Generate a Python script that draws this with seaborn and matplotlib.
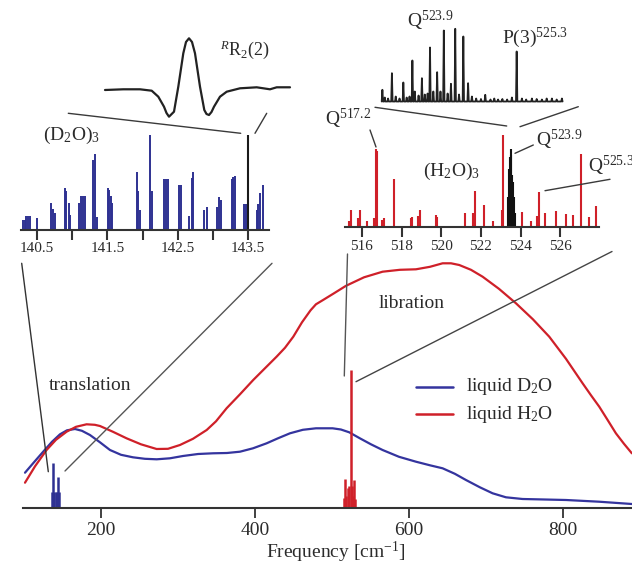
import numpy as np
import pandas as pd
import matplotlib
matplotlib.use("Agg")
import matplotlib.pyplot as plt
from matplotlib.lines import Line2D
import seaborn as sns

# ---------------- data ----------------
# liquid spectra (arbitrary absorbance units)
freq_d2o = [101.4, 113, 125, 136.4, 146.8, 155.9, 166.3, 175.3, 185.7, 198.7, 211.7,
            226, 241.5, 257, 272.3, 289.5, 306.4, 326, 345.4, 363.5, 380.4, 397.3,
            415, 429.7, 445.3, 462, 479, 500.6, 511.4, 522.2, 536, 550.4, 565.5,
            586.8, 608.8, 627, 643.4, 659.3, 673.7, 691.8, 708.3, 725.6, 747.2,
            776, 803.5, 846.3, 889]
abs_d2o = [35.6, 46, 56.6, 66.5, 74, 78, 79.3, 77.5, 73.3, 66, 58.3,
           53.5, 51, 49.5, 49, 50, 52.3, 54.3, 55, 55.3, 56.6, 60,
           65, 70, 75, 78.5, 80, 80, 78.8, 76, 70, 64, 58.3,
           51.5, 46.6, 43, 40, 34.5, 28.3, 21, 15, 11, 9.3,
           8.8, 8.3, 6.6, 4.3]
freq_h2o = [101.4, 114.4, 129.4, 141.6, 155.4, 167.6, 181.3, 192, 198.7, 215.6, 233.2,
            251.9, 272.2, 287, 302.5, 319.4, 337.2, 349.3, 363, 380.4, 397.6, 412.8,
            427.9, 438.8, 449.6, 460.9, 472, 479, 487.6, 502.4, 518, 541.4, 565.5,
            588, 608.8, 627, 643.4, 654.3, 665, 680.2, 695.3, 716.5, 738.6, 760.6,
            781.8, 803.5, 825.1, 836, 846.7, 857.4, 868.3, 878.8, 889]
abs_h2o = [25.6, 42, 58.3, 68.5, 76.6, 81.5, 84, 83.5, 82.3, 76.5, 70,
           64, 59.3, 59.5, 63.3, 69.5, 78.3, 87, 100, 114, 128.3, 140,
           151.6, 160.5, 171.6, 186, 198, 204, 208, 215, 222.5, 231, 236.6,
           238.5, 239, 241.5, 245, 245, 243.3, 238.5, 231.6, 219.5, 205, 189,
           171.6, 149.5, 125, 113, 101.6, 88.5, 75, 64.5, 55]

# cluster lines as drawn on the main axis
d2o_main_freq = [137.0, 138.2, 139.5, 141.0, 142.5, 144.6, 146.0]
d2o_main_int = [16, 45, 16, 16, 16, 31, 16]
h2o_main_freq = [515.5, 517.1, 518.5, 520.0, 521.5, 523.9, 525.5, 526.5, 528.0, 529.5]
h2o_main_int = [10, 29, 12, 20, 22, 138, 22, 12, 28, 9]

# (D2O)3 stick spectrum
d2o_freq = [140.30, 140.33, 140.35, 140.38, 140.40, 140.50, 140.70, 140.73, 140.76,
            140.90, 140.92, 140.95, 140.97, 141.10, 141.13, 141.155, 141.18, 141.30,
            141.33, 141.35, 141.51, 141.53, 141.55, 141.57, 141.92, 141.94, 141.96,
            142.11, 142.14, 142.31, 142.335, 142.36, 142.52, 142.55, 142.66, 142.70,
            142.72, 142.87, 142.91, 143.06, 143.09, 143.11, 143.27, 143.29, 143.32,
            143.44, 143.47, 143.62, 143.64, 143.67, 143.71]
d2o_int = [9.3, 9.3, 14, 14, 14, 11.7, 26.7, 20.7, 16.7,
           42, 38.3, 26.7, 15, 26.7, 33.3, 33.3, 33.3, 70,
           75.7, 12.7, 41.7, 39.3, 33.3, 26.7, 57.3, 38.3, 19.3,
           94.3, 38.3, 51, 51, 51, 44.7, 44.7, 13.3, 51.7,
           57.7, 20, 22.7, 22.7, 32.7, 30, 51, 52.7, 54,
           26, 26, 20, 26, 36.7, 44.7]
d2o_black_freq = [143.50]
d2o_black_int = [94.3]

# (H2O)3 stick spectrum
h2o_freq = [515.36, 515.46, 515.83, 515.91, 516.25, 516.64, 516.72, 516.79, 517.00,
            517.12, 517.64, 518.47, 518.55, 518.85, 518.94, 519.74, 519.81, 521.20,
            521.62, 521.72, 522.16, 522.63, 523.05, 523.12, 524.06, 524.51, 524.82,
            524.90, 525.24, 525.79, 526.26, 526.66, 527.03, 527.45, 527.80]
h2o_int = [6, 17, 9.3, 17, 6, 9.3, 78.3, 76, 7.7,
           9.3, 48.7, 9.3, 10.3, 11, 17, 12.7, 10.3, 14.3,
           14.3, 36, 22, 6.7, 17.7, 92.7, 15.3, 6, 11,
           35, 14.3, 16.7, 13.3, 12, 73.7, 10.3, 21]
h2o_black_freq = [523.38, 523.42, 523.46, 523.49, 523.52, 523.56, 523.60, 523.65, 523.69]
h2o_black_int = [30, 58, 70, 78, 72, 52, 45, 30, 14]

# high-resolution scan of the RR2(2) line
rr_shift = [-84, -65.7, -49, -37.3, -30.7, -25, -22.5, -20, -15, -10.7, -5.7, -3, 0,
            3, 6, 11, 15.3, 17.5, 20, 22.5, 25, 31, 37.7, 51, 67.7, 81, 87.7, 101]
rr_signal = [0, 0.7, 0.7, -0.7, -6.7, -16.7, -23, -26.7, -21.7, 3.3, 36.7, 48, 51.7,
             48, 36.7, 3.3, -20, -24, -25, -22, -16.7, -6.7, -1.7, 1.7, 2.7, 0.7, 2.7, 2.7]

# jet spectrum around 524 cm-1
jet_freq = [522.48, 522.53, 522.60, 522.68, 522.76, 522.84, 522.92, 522.99, 523.05,
            523.11, 523.16, 523.24, 523.31, 523.37, 523.43, 523.48, 523.55, 523.63,
            523.70, 523.77, 523.85, 523.92, 524.01, 524.09, 524.18, 524.28, 524.36,
            524.45, 524.55, 524.64, 524.75, 524.83, 524.91, 525.00, 525.10, 525.20,
            525.30, 525.41, 525.50, 525.62, 525.72, 525.83, 525.93, 526.04, 526.14, 526.25]
jet_int = [11.7, 4, 3, 28.3, 5, 3, 19, 4, 5,
           41, 10, 6, 23.3, 7, 8, 54, 10, 29.3,
           10, 71, 8, 17.7, 72.7, 7, 65, 18.3, 5,
           3, 2.5, 6.7, 2, 3, 2, 2.5, 2, 4,
           50, 3, 2, 3, 2.5, 2, 3, 3, 2, 3]

# ---------------- style ----------------
sns.set_theme(style="white")
plt.rcParams["font.family"] = ["Liberation Serif", "DejaVu Serif"]
plt.rcParams["mathtext.fontset"] = "custom"
plt.rcParams["mathtext.rm"] = "Liberation Serif"
plt.rcParams["mathtext.it"] = "Liberation Serif:italic"
plt.rcParams["mathtext.bf"] = "Liberation Serif:bold"

TXT = "#2b2b2b"
AX = "#333333"
BLUE = "#34349e"
DBLUE = "#2e3192"
RED = "#cf2029"

W, H = 632, 566
fig = plt.figure(figsize=(W / 100, H / 100), dpi=100)


def rect(x0, x1, ytop, ybot):
    return [x0 / W, 1 - ybot / H, (x1 - x0) / W, (ybot - ytop) / H]


def fpt(x, y):
    return x / W, 1 - y / H


def line(p0, p1, color="#3a3a3a", lw=1.0):
    (x0, y0), (x1, y1) = fpt(*p0), fpt(*p1)
    fig.add_artist(Line2D([x0, x1], [y0, y1], transform=fig.transFigure,
                          color=color, lw=lw))


def text(x, y, s, size=14, ha="center", va="center"):
    fx, fy = fpt(x, y)
    fig.text(fx, fy, s, fontsize=size, ha=ha, va=va, color=TXT)


def style_axis(ax, labelsize):
    for s in ["left", "top", "right"]:
        ax.spines[s].set_visible(False)
    ax.spines["bottom"].set_color(AX)
    ax.spines["bottom"].set_linewidth(1.5)
    ax.set_yticks([])
    ax.set_facecolor("none")
    ax.tick_params(axis="x", which="both", direction="out", length=6, width=1.3,
                   color=AX, labelcolor=TXT, labelsize=labelsize, pad=2, bottom=True)
    ax.set_ylabel("")
    ax.set_xlabel("")


# ---------------- main axes ----------------
ax = fig.add_axes(rect(23, 632, 0, 508.3))
df_d = pd.DataFrame({"freq": freq_d2o, "abs": abs_d2o})
df_h = pd.DataFrame({"freq": freq_h2o, "abs": abs_h2o})
sns.lineplot(data=df_d, x="freq", y="abs", ax=ax, color=BLUE, lw=1.6, sort=False,
             solid_joinstyle="round")
sns.lineplot(data=df_h, x="freq", y="abs", ax=ax, color=RED, lw=1.6, sort=False,
             solid_joinstyle="round")
ax.vlines(d2o_main_freq, 0, d2o_main_int, color=DBLUE, lw=1.8)
ax.vlines(h2o_main_freq, 0, h2o_main_int, color=RED, lw=1.8)
ax.set_xlim(98.8, 889.2)
ax.set_ylim(0, 508.3)
style_axis(ax, 14)
ax.tick_params(axis="x", length=7, pad=3)
ax.set_xticks([200, 400, 600, 800])

# legend (drawn manually)
line((416, 386.7), (452.7, 386.7), color=BLUE, lw=1.8)
line((416, 414.3), (452.7, 414.3), color=RED, lw=1.8)
text(466, 386.7, "liquid D$_2$O", ha="left")
text(466, 414.3, "liquid H$_2$O", ha="left")
text(90, 385, "translation")
text(412, 303, "libration")
text(335.5, 552, "Frequency [cm$^{-1}$]")

# ---------------- (D2O)3 inset ----------------
axa = fig.add_axes(rect(20.7, 269.3, 129.5, 229.5))
axa.vlines(d2o_freq, 0, d2o_int, color=DBLUE, lw=1.4)
axa.vlines(d2o_black_freq, 0, d2o_black_int, color="#1a1a1a", lw=1.5)
axa.set_xlim(140.27, 143.80)
axa.set_ylim(0, 100)
style_axis(axa, 11)
axa.set_xticks([140.5, 141.5, 142.5, 143.5])
axa.set_xticklabels(["140.5", "141.5", "142.5", "143.5"])
axa.set_xticks([141.0, 142.0, 143.0], minor=True)
axa.tick_params(axis="x", which="both", length=7, width=1.5)
text(71, 135, "(D$_2$O)$_3$", size=14)

# RR2(2) scan
axr = fig.add_axes(rect(100, 295, 30, 125))
axr.axis("off")
sns.lineplot(x=rr_shift, y=rr_signal, ax=axr, color="#222222", lw=1.6, sort=False,
             solid_joinstyle="round")
axr.set_xlim(-89, 106)
axr.set_ylim(-35, 60)
text(245, 50, "$^{R}$R$_2$(2)", size=13)
line((68.3, 113.3), (240.7, 133.3))
line((255, 133.3), (266.7, 113.3))

# ---------------- (H2O)3 inset ----------------
axb = fig.add_axes(rect(345.3, 599.3, 127.2, 227.2))
axb.vlines(h2o_freq, 0, h2o_int, color=RED, lw=1.5)
axb.vlines(h2o_black_freq, 0, h2o_black_int, color="#111111", lw=1.5)
axb.set_xlim(515.17, 527.96)
axb.set_ylim(0, 100)
style_axis(axb, 11)
axb.set_xticks([516, 518, 520, 522, 524, 526])
axb.tick_params(axis="x", which="both", length=7, width=1.5)
text(451, 171, "(H$_2$O)$_3$", size=14)
text(348, 119, "Q$^{517.2}$", size=14)
text(559, 140, "Q$^{523.9}$", size=14)
text(588, 166, "Q$^{525.3}$", size=14, ha="left")
line((370, 130), (376, 147))
line((515, 153.3), (533.3, 145))
line((545, 190.7), (610, 179.3))

# jet spectrum trace
trace_x, trace_y = [], []
for f, h in zip(jet_freq, jet_int):
    trace_x += [f - 0.014, f, f + 0.014]
    trace_y += [0, h, 0]
axj = fig.add_axes(rect(380, 570, 20, 103))
axj.axis("off")
sns.lineplot(x=trace_x, y=trace_y, ax=axj, color="#222222", lw=1.3, sort=False)
axj.set_xlim(522.43, 526.42)
axj.set_ylim(-1.5, 81.5)
text(430, 21, "Q$^{523.9}$", size=14)
text(535, 38, "P(3)$^{525.3}$", size=14)
line((375, 107.3), (506.7, 126))
line((520, 126.7), (578.3, 106.7))

# ---------------- connectors to main axis ----------------
line((21.7, 263.3), (48.3, 471.7), color="#333333")
line((272, 263.3), (65, 471), color="#555555")
line((347.5, 254), (344.3, 376), color="#555555")
line((612, 251.5), (356, 381.7), color="#444444")

fig.savefig("out.png", dpi=100)
